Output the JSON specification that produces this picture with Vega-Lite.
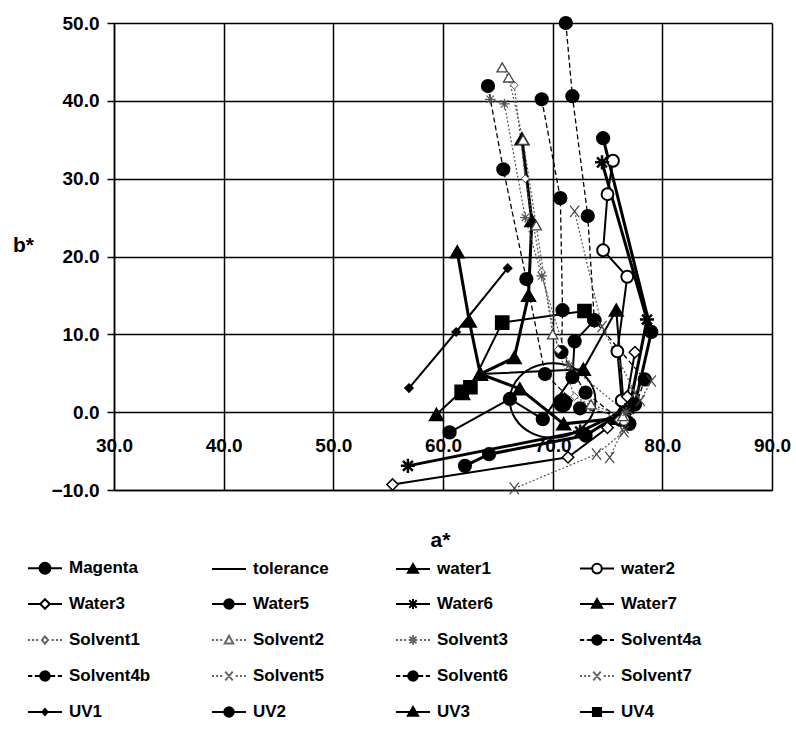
{
"$schema": "https://vega.github.io/schema/vega-lite/v6.json",
"width": 658, "height": 467,
"autosize": {"type": "none"},
"padding": {"left": 114, "top": 23, "right": 24, "bottom": 257},
"background": "white",
"config": {
  "view": {"stroke": null},
  "axis": {"labelFont": "Liberation Sans", "labelFontWeight": "bold", "labelFontSize": 19, "labelColor": "#000",
           "domainColor": "#000", "domainWidth": 1.5, "gridColor": "#000", "gridWidth": 1.5, "gridOpacity": 1,
           "tickColor": "#000", "tickWidth": 1.5, "titleFont": "Liberation Sans", "titleFontSize": 21,
           "titleFontWeight": "bold", "titleColor": "#000"}
},
"datasets": {"pts": [
{"s":"Magenta","i":0,"a":70.9,"b":1.2},
{"s":"tolerance","i":0,"a":73.9,"b":1.5},{"s":"tolerance","i":1,"a":73.38,"b":3.9},{"s":"tolerance","i":2,"a":71.95,"b":5.66},{"s":"tolerance","i":3,"a":70.0,"b":6.3},{"s":"tolerance","i":4,"a":68.05,"b":5.66},{"s":"tolerance","i":5,"a":66.62,"b":3.9},{"s":"tolerance","i":6,"a":66.1,"b":1.5},{"s":"tolerance","i":7,"a":66.62,"b":-0.9},{"s":"tolerance","i":8,"a":68.05,"b":-2.66},{"s":"tolerance","i":9,"a":70.0,"b":-3.3},{"s":"tolerance","i":10,"a":71.95,"b":-2.66},{"s":"tolerance","i":11,"a":73.38,"b":-0.9},
{"s":"water1","i":0,"a":61.3,"b":20.6},{"s":"water1","i":1,"a":62.4,"b":11.7},{"s":"water1","i":2,"a":63.4,"b":4.9},{"s":"water1","i":3,"a":67.0,"b":3.0},{"s":"water1","i":4,"a":71.0,"b":-1.5},{"s":"water1","i":5,"a":75.8,"b":-0.8},
{"s":"water2","i":0,"a":75.5,"b":32.3},{"s":"water2","i":1,"a":75.0,"b":28.0},{"s":"water2","i":2,"a":74.6,"b":20.8},{"s":"water2","i":3,"a":76.8,"b":17.4},{"s":"water2","i":4,"a":75.9,"b":7.8},{"s":"water2","i":5,"a":76.3,"b":1.5},{"s":"water2","i":6,"a":76.5,"b":-1.0},
{"s":"Water3","i":0,"a":55.4,"b":-9.3},{"s":"Water3","i":1,"a":71.4,"b":-5.8},{"s":"Water3","i":2,"a":75.0,"b":-2.0},{"s":"Water3","i":3,"a":76.8,"b":2.0},{"s":"Water3","i":4,"a":77.5,"b":7.7},
{"s":"Water5","i":0,"a":74.6,"b":35.2},{"s":"Water5","i":1,"a":79.0,"b":10.3},{"s":"Water5","i":2,"a":77.5,"b":1.0},{"s":"Water5","i":3,"a":73.0,"b":-3.0},{"s":"Water5","i":4,"a":64.2,"b":-5.4},{"s":"Water5","i":5,"a":62.0,"b":-6.9},
{"s":"Water6","i":0,"a":74.5,"b":32.1},{"s":"Water6","i":1,"a":78.6,"b":11.9},{"s":"Water6","i":2,"a":77.0,"b":0.5},{"s":"Water6","i":3,"a":72.5,"b":-2.5},{"s":"Water6","i":4,"a":56.8,"b":-6.9},
{"s":"Water7","i":0,"a":59.4,"b":-0.3},{"s":"Water7","i":1,"a":63.4,"b":4.9},{"s":"Water7","i":2,"a":72.8,"b":5.5},{"s":"Water7","i":3,"a":75.8,"b":13.1},{"s":"Water7","i":4,"a":76.5,"b":0.5},
{"s":"Solvent1","i":0,"a":66.5,"b":42.0},{"s":"Solvent1","i":1,"a":67.5,"b":30.0},{"s":"Solvent1","i":2,"a":69.0,"b":18.0},{"s":"Solvent1","i":3,"a":70.5,"b":8.0},{"s":"Solvent1","i":4,"a":72.0,"b":2.0},{"s":"Solvent1","i":5,"a":76.0,"b":-1.0},
{"s":"Solvent2","i":0,"a":65.4,"b":44.3},{"s":"Solvent2","i":1,"a":66.0,"b":43.0},{"s":"Solvent2","i":2,"a":67.3,"b":35.0},{"s":"Solvent2","i":3,"a":68.5,"b":24.0},{"s":"Solvent2","i":4,"a":70.0,"b":10.0},{"s":"Solvent2","i":5,"a":73.5,"b":1.0},{"s":"Solvent2","i":6,"a":76.4,"b":-0.5},
{"s":"Solvent3","i":0,"a":64.3,"b":40.2},{"s":"Solvent3","i":1,"a":65.6,"b":39.6},{"s":"Solvent3","i":2,"a":67.5,"b":25.0},{"s":"Solvent3","i":3,"a":69.0,"b":17.5},{"s":"Solvent3","i":4,"a":71.5,"b":6.0},{"s":"Solvent3","i":5,"a":76.7,"b":0.0},
{"s":"Solvent4a","i":0,"a":64.1,"b":41.9},{"s":"Solvent4a","i":1,"a":65.5,"b":31.2},{"s":"Solvent4a","i":2,"a":67.6,"b":17.1},{"s":"Solvent4a","i":3,"a":69.3,"b":4.9},{"s":"Solvent4a","i":4,"a":72.5,"b":0.5},{"s":"Solvent4a","i":5,"a":76.5,"b":-0.5},
{"s":"Solvent4b","i":0,"a":69.0,"b":40.2},{"s":"Solvent4b","i":1,"a":70.7,"b":27.5},{"s":"Solvent4b","i":2,"a":70.9,"b":13.1},{"s":"Solvent4b","i":3,"a":70.8,"b":7.7},{"s":"Solvent4b","i":4,"a":73.0,"b":2.5},{"s":"Solvent4b","i":5,"a":76.2,"b":-1.0},
{"s":"Solvent5","i":0,"a":72.0,"b":25.8},{"s":"Solvent5","i":1,"a":74.5,"b":11.0},{"s":"Solvent5","i":2,"a":77.5,"b":2.5},{"s":"Solvent5","i":3,"a":76.5,"b":-2.0},{"s":"Solvent5","i":4,"a":75.2,"b":-5.8},
{"s":"Solvent6","i":0,"a":71.2,"b":50.0},{"s":"Solvent6","i":1,"a":71.8,"b":40.6},{"s":"Solvent6","i":2,"a":73.2,"b":25.2},{"s":"Solvent6","i":3,"a":73.8,"b":11.8},{"s":"Solvent6","i":4,"a":78.4,"b":4.2},{"s":"Solvent6","i":5,"a":77.0,"b":-1.5},
{"s":"Solvent7","i":0,"a":66.5,"b":-9.8},{"s":"Solvent7","i":1,"a":74.0,"b":-5.4},{"s":"Solvent7","i":2,"a":76.5,"b":-2.5},{"s":"Solvent7","i":3,"a":78.0,"b":1.5},{"s":"Solvent7","i":4,"a":79.0,"b":4.0},
{"s":"UV1","i":0,"a":56.9,"b":3.1},{"s":"UV1","i":1,"a":61.2,"b":10.3},{"s":"UV1","i":2,"a":65.9,"b":18.5},
{"s":"UV2","i":0,"a":60.6,"b":-2.6},{"s":"UV2","i":1,"a":66.1,"b":1.7},{"s":"UV2","i":2,"a":69.1,"b":-0.9},{"s":"UV2","i":3,"a":71.8,"b":4.5},{"s":"UV2","i":4,"a":72.0,"b":9.1},{"s":"UV2","i":5,"a":73.8,"b":11.8},
{"s":"UV3","i":0,"a":67.2,"b":35.1},{"s":"UV3","i":1,"a":68.1,"b":24.6},{"s":"UV3","i":2,"a":67.8,"b":15.0},{"s":"UV3","i":3,"a":66.5,"b":7.0},{"s":"UV3","i":4,"a":63.4,"b":4.9},{"s":"UV3","i":5,"a":61.8,"b":2.4},
{"s":"UV4","i":0,"a":61.7,"b":2.6},{"s":"UV4","i":1,"a":62.5,"b":3.2},{"s":"UV4","i":2,"a":65.4,"b":11.5},{"s":"UV4","i":3,"a":72.9,"b":13.0}
]},
"data": {"name": "pts"},
"encoding": {
  "x": {"field": "a", "type": "quantitative", "scale": {"domain": [30, 90], "nice": false, "zero": false},
        "axis": {"title": "a*", "values": [30, 40, 50, 60, 70, 80, 90], "format": ".1f", "grid": true, "ticks": false,
                 "tickSize": 0, "domain": true, "labelPadding": -54, "labelBaseline": "top", "labelFlush": false,
                 "titleX": 326, "titleY": 50, "titleBaseline": "middle", "titleAlign": "center"}},
  "y": {"field": "b", "type": "quantitative", "scale": {"domain": [-10, 50], "nice": false, "zero": false},
        "axis": {"title": "b*", "values": [-10, 0, 10, 20, 30, 40, 50], "format": ".1f", "grid": true, "ticks": true,
                 "tickSize": 7, "labelPadding": 8, "labelFlush": false, "titleAngle": 0, "titleX": -91, "titleY": 222,
                 "titleAlign": "center", "titleBaseline": "middle"}}
},
"layer": [
  {"transform": [{"filter": {"field": "s", "equal": "tolerance"}}],
   "mark": {"type": "line", "interpolate": "cardinal-closed", "stroke": "#000", "strokeWidth": 2},
   "encoding": {"detail": {"field": "s"}, "order": {"field": "i"}}},
  {"transform": [{"filter": {"field": "s", "oneOf": ["water1", "Water5", "Water6", "UV3"]}}],
   "mark": {"type": "line", "stroke": "#000", "strokeWidth": 3},
   "encoding": {"detail": {"field": "s"}, "order": {"field": "i"}}},
  {"transform": [{"filter": {"field": "s", "oneOf": ["water2", "Water3", "Water7", "UV1", "UV2", "UV4"]}}],
   "mark": {"type": "line", "stroke": "#000", "strokeWidth": 2},
   "encoding": {"detail": {"field": "s"}, "order": {"field": "i"}}},
  {"transform": [{"filter": {"field": "s", "oneOf": ["Solvent4a", "Solvent4b", "Solvent6"]}}],
   "mark": {"type": "line", "stroke": "#000", "strokeWidth": 1.3, "strokeDash": [5, 3]},
   "encoding": {"detail": {"field": "s"}, "order": {"field": "i"}}},
  {"transform": [{"filter": {"field": "s", "oneOf": ["Solvent1", "Solvent2", "Solvent3", "Solvent5", "Solvent7"]}}],
   "mark": {"type": "line", "stroke": "#555", "strokeWidth": 1.2, "strokeDash": [2, 2]},
   "encoding": {"detail": {"field": "s"}, "order": {"field": "i"}}},
  {"transform": [{"filter": {"field": "s", "oneOf": ["Water5", "Solvent4a", "Solvent4b", "Solvent6", "UV2"]}}],
   "mark": {"type": "point", "shape": "circle", "filled": true, "fill": "#000", "stroke": "#000", "size": 150, "opacity": 1}},
  {"transform": [{"filter": {"field": "s", "equal": "Magenta"}}],
   "mark": {"type": "point", "shape": "circle", "filled": true, "fill": "#000", "stroke": "#000", "size": 300, "opacity": 1}},
  {"transform": [{"filter": {"field": "s", "oneOf": ["water1", "Water7", "UV3"]}}],
   "mark": {"type": "point", "shape": "triangle-up", "filled": true, "fill": "#000", "stroke": "#000", "size": 170, "opacity": 1}},
  {"transform": [{"filter": {"field": "s", "equal": "water2"}}],
   "mark": {"type": "point", "shape": "circle", "filled": true, "fill": "#fff", "stroke": "#000", "strokeWidth": 2, "size": 140, "opacity": 1}},
  {"transform": [{"filter": {"field": "s", "equal": "Water3"}}],
   "mark": {"type": "point", "shape": "diamond", "filled": true, "fill": "#fff", "stroke": "#000", "strokeWidth": 1.5, "size": 130, "opacity": 1}},
  {"transform": [{"filter": {"field": "s", "equal": "Water6"}}],
   "mark": {"type": "point", "shape": "M-1,0H1M0,-1V1M-0.7,-0.7L0.7,0.7M-0.7,0.7L0.7,-0.7", "filled": false, "stroke": "#000", "strokeWidth": 2.5, "size": 200, "opacity": 1}},
  {"transform": [{"filter": {"field": "s", "equal": "Solvent1"}}],
   "mark": {"type": "point", "shape": "diamond", "filled": true, "fill": "#fff", "stroke": "#555", "strokeWidth": 1, "size": 60, "opacity": 1}},
  {"transform": [{"filter": {"field": "s", "equal": "Solvent2"}}],
   "mark": {"type": "point", "shape": "triangle-up", "filled": true, "fill": "#fff", "stroke": "#444", "strokeWidth": 1.3, "size": 110, "opacity": 1}},
  {"transform": [{"filter": {"field": "s", "equal": "Solvent3"}}],
   "mark": {"type": "point", "shape": "M-1,0H1M0,-1V1M-0.7,-0.7L0.7,0.7M-0.7,0.7L0.7,-0.7", "filled": false, "stroke": "#555", "strokeWidth": 1.2, "size": 110, "opacity": 1}},
  {"transform": [{"filter": {"field": "s", "oneOf": ["Solvent5", "Solvent7"]}}],
   "mark": {"type": "point", "shape": "M-0.8,-1L0.8,1M-0.8,1L0.8,-1", "filled": false, "stroke": "#444", "strokeWidth": 1.2, "size": 130, "opacity": 1}},
  {"transform": [{"filter": {"field": "s", "equal": "UV1"}}],
   "mark": {"type": "point", "shape": "diamond", "filled": true, "fill": "#000", "stroke": "#000", "size": 55, "opacity": 1}},
  {"transform": [{"filter": {"field": "s", "equal": "UV4"}}],
   "mark": {"type": "point", "shape": "square", "filled": true, "fill": "#000", "stroke": "#000", "size": 160, "opacity": 1}},
  {"mark": {"type": "point", "filled": true, "opacity": 0},
   "encoding": {
     "shape": {"field": "s", "type": "nominal",
       "scale": {"domain": ["Magenta","tolerance","water1","water2","Water3","Water5","Water6","Water7","Solvent1","Solvent2","Solvent3","Solvent4a","Solvent4b","Solvent5","Solvent6","Solvent7","UV1","UV2","UV3","UV4"],
         "range": [
           "M-1,0H1M0.32,0A0.32,0.32 0 1 1 -0.32,0A0.32,0.32 0 1 1 0.32,0Z",
           "M-1,0H1",
           "M-1,0H1M0,-0.3L0.3,0.22L-0.3,0.22Z",
           "M-1,0H-0.28M0.28,0H1M0.28,0A0.28,0.28 0 1 1 -0.28,0A0.28,0.28 0 1 1 0.28,0Z",
           "M-1,0H-0.28M0.28,0H1M0,-0.28L0.28,0L0,0.28L-0.28,0Z",
           "M-1,0H1M0.28,0A0.28,0.28 0 1 1 -0.28,0A0.28,0.28 0 1 1 0.28,0Z",
           "M-1,0H1M0,-0.3V0.3M-0.22,-0.22L0.22,0.22M-0.22,0.22L0.22,-0.22",
           "M-1,0H1M0,-0.3L0.3,0.22L-0.3,0.22Z",
           "M-1,0H-0.88M-0.76,0H-0.64M-0.52,0H-0.4M0.4,0H0.52M0.64,0H0.76M0.88,0H1M0,-0.22L0.18,0L0,0.22L-0.18,0Z",
           "M-1,0H-0.88M-0.76,0H-0.64M-0.52,0H-0.4M0.4,0H0.52M0.64,0H0.76M0.88,0H1M0,-0.25L0.25,0.2L-0.25,0.2Z",
           "M-1,0H-0.88M-0.76,0H-0.64M-0.52,0H-0.4M0.4,0H0.52M0.64,0H0.76M0.88,0H1M-0.25,0H0.25M0,-0.28V0.28M-0.2,-0.2L0.2,0.2M-0.2,0.2L0.2,-0.2",
           "M-1,0H-0.75M-0.6,0H-0.3M0.3,0H0.6M0.75,0H1M0.28,0A0.28,0.28 0 1 1 -0.28,0A0.28,0.28 0 1 1 0.28,0Z",
           "M-1,0H-0.75M-0.6,0H-0.3M0.3,0H0.6M0.75,0H1M0.28,0A0.28,0.28 0 1 1 -0.28,0A0.28,0.28 0 1 1 0.28,0Z",
           "M-1,0H-0.88M-0.76,0H-0.64M-0.52,0H-0.4M0.4,0H0.52M0.64,0H0.76M0.88,0H1M-0.22,-0.26L0.22,0.26M-0.22,0.26L0.22,-0.26",
           "M-1,0H-0.75M-0.6,0H-0.3M0.3,0H0.6M0.75,0H1M0.28,0A0.28,0.28 0 1 1 -0.28,0A0.28,0.28 0 1 1 0.28,0Z",
           "M-1,0H-0.88M-0.76,0H-0.64M-0.52,0H-0.4M0.4,0H0.52M0.64,0H0.76M0.88,0H1M-0.22,-0.26L0.22,0.26M-0.22,0.26L0.22,-0.26",
           "M-1,0H1M0,-0.18L0.15,0L0,0.18L-0.15,0Z",
           "M-1,0H1M0.28,0A0.28,0.28 0 1 1 -0.28,0A0.28,0.28 0 1 1 0.28,0Z",
           "M-1,0H1M0,-0.3L0.3,0.22L-0.3,0.22Z",
           "M-1,0H1M-0.24,-0.24H0.24V0.24H-0.24Z"
         ]},
       "legend": {"title": null, "orient": "none", "legendX": -87, "legendY": 527, "columns": 4, "direction": "horizontal",
                  "symbolSize": 1156, "symbolStrokeWidth": 2, "symbolOpacity": 1, "labelOffset": 6, "columnPadding": 57,
                  "rowPadding": 8, "gridAlign": "all", "labelFontSize": 17, "labelFont": "Liberation Sans",
                  "labelFontWeight": "bold", "labelColor": "#000", "padding": 0, "labelLimit": 200, "symbolLimit": 0}},
     "fill": {"field": "s", "type": "nominal",
       "scale": {"domain": ["Magenta","tolerance","water1","water2","Water3","Water5","Water6","Water7","Solvent1","Solvent2","Solvent3","Solvent4a","Solvent4b","Solvent5","Solvent6","Solvent7","UV1","UV2","UV3","UV4"],
         "range": ["#000","#000","#000","#fff","#fff","#000","#000","#000","#fff","#fff","#fff","#000","#000","#fff","#000","#fff","#000","#000","#000","#000"]},
       "legend": {"title": null}},
     "stroke": {"field": "s", "type": "nominal",
       "scale": {"domain": ["Magenta","tolerance","water1","water2","Water3","Water5","Water6","Water7","Solvent1","Solvent2","Solvent3","Solvent4a","Solvent4b","Solvent5","Solvent6","Solvent7","UV1","UV2","UV3","UV4"],
         "range": ["#000","#000","#000","#000","#000","#000","#000","#000","#666","#666","#666","#000","#000","#666","#000","#666","#000","#000","#000","#000"]},
       "legend": {"title": null}}
   }}
]
}
